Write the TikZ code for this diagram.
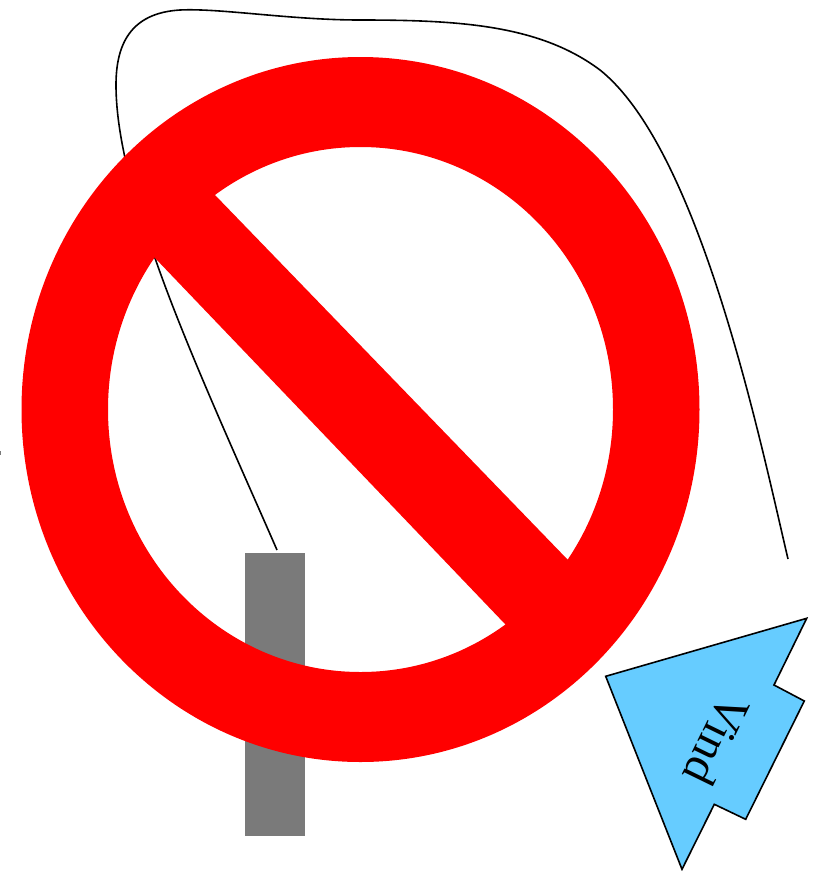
\documentclass[tikz,border=0pt]{standalone}
\usepackage{fontspec}
\setmainfont{Liberation Serif}
\definecolor{signred}{RGB}{255,0,0}
\definecolor{postgrey}{RGB}{122,122,122}
\definecolor{windblue}{RGB}{102,204,255}
\tikzset{
  wire/.style={draw=black,line width=1.6pt,line cap=butt},
  post/.style={fill=postgrey,draw=none},
  sign/.style={fill=signred,draw=none},
  windarrow/.style={fill=windblue,draw=black,line width=1.6pt,line join=miter},
  windtext/.style={font=\fontsize{48}{48}\selectfont,text=black,inner sep=0pt}
}
\begin{document}
\begin{tikzpicture}[x=1pt,y=-1pt]
\useasboundingbox (0,0) rectangle (814,871);
% speck at the left edge
\fill[postgrey] (0,451) rectangle (1,455);
% post
\path[post] (245,553) rectangle (305,836);
% wire
\draw[wire] (788,559) .. controls (760,440) and (700,150) .. (600,70)
  .. controls (540,25) and (460,20) .. (360,20)
  .. controls (290,20) and (220,8) .. (180,10)
  .. controls (130,13) and (116,45) .. (116,85)
  .. controls (116,130) and (130,190) .. (155,258)
  .. controls (185,345) and (240,465) .. (277,550);
% prohibition sign
\path[sign,even odd rule] (360.5,409.5) ellipse [x radius=339,y radius=352.5]
  (360.5,409.5) ellipse [x radius=252.5,y radius=262.5];
\path[sign] (195,174.3) -- (215,195) -- (568,560) -- (588,580.7) -- (525,644.7) -- (505,624) -- (155,258) -- (135,237.1) -- cycle;
% wind arrow
\draw[windarrow] (806.7,618.3) -- (774,685) -- (804.3,701) -- (745.7,819.3) -- (714.3,804.3) -- (682,869.3) -- (605.7,676.3) -- cycle;
\node[windtext,rotate=244] (vind) at (717,740) {Vind};
\end{tikzpicture}
\end{document}
